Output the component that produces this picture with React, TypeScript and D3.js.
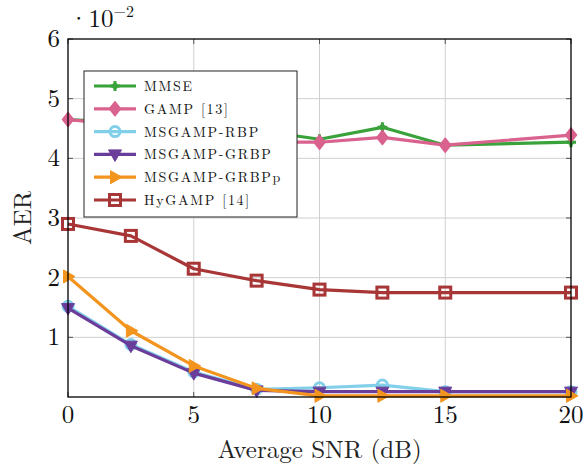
import React from "react";
import * as d3 from "d3";

const snr = [0, 2.5, 5, 7.5, 10, 12.5, 15, 20];
const mmse = [4.65, 4.6, 4.55, 4.47, 4.32, 4.52, 4.22, 4.27];
const gamp = [4.65, 4.55, 4.4, 4.27, 4.27, 4.35, 4.22, 4.39];
const rbp = [1.52, 0.88, 0.42, 0.13, 0.155, 0.2, 0.09, 0.09];
const grbp = [1.49, 0.86, 0.4, 0.11, 0.09, 0.09, 0.09, 0.09];
const grbpp = [2.02, 1.11, 0.52, 0.145, 0.02, 0.02, 0.02, 0.02];
const hygamp = [2.9, 2.7, 2.15, 1.95, 1.8, 1.75, 1.75, 1.75];

const seriesNames = ["MMSE", "GAMP [13]", "MSGAMP-RBP", "MSGAMP-GRBP", "MSGAMP-GRBPp", "HyGAMP [14]"];
const seriesValues = [mmse, gamp, rbp, grbp, grbpp, hygamp];
const seriesColors = ["#3aa23a", "#d9628f", "#82cfea", "#6a3d9a", "#f3941f", "#a83636"];
const seriesMarkers = ["plus", "diamond", "circle", "tridown", "triright", "square"];

const xTicks = [0, 5, 10, 15, 20];
const yTicks = [1, 2, 3, 4, 5, 6];

const W = 584, H = 470;
const L = 68, R = 571, T = 39, B = 397;
const FONT = "'Latin Modern Roman', 'Liberation Serif', serif";

function Marker({ type, x, y, color }: { type: string; x: number; y: number; color: string }) {
  const t = `translate(${x},${y})`;
  switch (type) {
    case "plus":
      return (
        <g transform={t}>
          <circle r={3} fill={color} />
          <path d="M-5,0H5M0,-5V5" stroke={color} strokeWidth={3} />
        </g>
      );
    case "diamond":
      return (
        <g transform={t}>
          <path d="M0,-7L5.5,0L0,7L-5.5,0Z" fill={color} stroke={color} strokeWidth={1.5} strokeLinejoin="round" />
        </g>
      );
    case "circle":
      return <circle transform={t} r={5} fill="none" stroke={color} strokeWidth={3} />;
    case "tridown":
      return <path transform={t} d="M-6.5,-4.5L6.5,-4.5L0,7Z" fill={color} stroke={color} strokeWidth={1} />;
    case "triright":
      return <path transform={t} d="M-4.5,-6.5L7,0L-4.5,6.5Z" fill={color} stroke={color} strokeWidth={1} />;
    case "square":
      return <rect transform={t} x={-5.5} y={-5.5} width={11} height={11} fill="none" stroke={color} strokeWidth={3} />;
  }
  return null;
}

export default function App() {
  const x = d3.scaleLinear().domain([0, 20]).range([L, R]);
  const y = d3.scaleLinear().domain([0, 6]).range([B, T]);
  const line = d3
    .line<[number, number]>()
    .x((d) => x(d[0]))
    .y((d) => y(d[1]));

  const legX = 84, legY = 71, legW = 213, legH = 146;
  const rowH = 22.8;
  const tf = { fontFamily: FONT };

  return (
    <svg width={W} height={H} style={{ position: "fixed", left: 0, top: 0, background: "#fff", fontFamily: FONT }}>
      <rect x={0} y={0} width={W} height={H} fill="#fff" />
      {xTicks.filter((v) => v > 0 && v < 20).map((v) => (
        <line key={"gx" + v} x1={x(v)} x2={x(v)} y1={T} y2={B} stroke="#cfcfcf" strokeWidth={1} />
      ))}
      {yTicks.filter((v) => v < 6).map((v) => (
        <line key={"gy" + v} x1={L} x2={R} y1={y(v)} y2={y(v)} stroke="#cfcfcf" strokeWidth={1} />
      ))}
      {xTicks.map((v) => (
        <g key={"tx" + v}>
          <line x1={x(v)} x2={x(v)} y1={B} y2={B - 5} stroke="#555" />
          <line x1={x(v)} x2={x(v)} y1={T} y2={T + 5} stroke="#555" />
        </g>
      ))}
      {yTicks.map((v) => (
        <g key={"ty" + v}>
          <line x1={L} x2={L + 5} y1={y(v)} y2={y(v)} stroke="#555" />
          <line x1={R} x2={R - 5} y1={y(v)} y2={y(v)} stroke="#555" />
        </g>
      ))}
      {seriesValues.map((vals, i) => {
        const pts = snr.map((s, j) => [s, vals[j]] as [number, number]);
        return (
          <g key={"s" + i}>
            <path d={line(pts) || ""} fill="none" stroke={seriesColors[i]} strokeWidth={3.2} strokeLinejoin="round" />
            {pts.map((p, j) => (
              <Marker key={j} type={seriesMarkers[i]} x={x(p[0])} y={y(p[1])} color={seriesColors[i]} />
            ))}
          </g>
        );
      })}
      <rect x={L} y={T} width={R - L} height={B - T} fill="none" stroke="#000" strokeWidth={1.3} />
      {xTicks.map((v) => (
        <text key={"lx" + v} x={x(v)} y={423} textAnchor="middle" fontSize={25} fill="#111" style={tf}>
          {v}
        </text>
      ))}
      {yTicks.map((v) => (
        <text key={"ly" + v} x={60} y={y(v) + 8} textAnchor="end" fontSize={25} fill="#111" style={tf}>
          {v}
        </text>
      ))}
      <text x={69} y={27} fontSize={25} fill="#111" style={tf}>
        ·10
        <tspan dy={-10} fontSize={16}>−2</tspan>
      </text>
      <text x={x(10)} y={458} textAnchor="middle" fontSize={25} fill="#222" style={tf}>
        Average SNR (dB)
      </text>
      <text transform={`translate(31,${(T + B) / 2}) rotate(-90)`} textAnchor="middle" fontSize={25} fill="#222" style={tf}>
        AER
      </text>
      <rect x={legX} y={legY} width={legW} height={legH} fill="#fff" stroke="#222" strokeWidth={1} />
      {seriesNames.map((n, i) => {
        const cy = legY + 15 + i * rowH;
        return (
          <g key={"lg" + i}>
            <line x1={94} x2={136} y1={cy} y2={cy} stroke={seriesColors[i]} strokeWidth={3.2} />
            <Marker type={seriesMarkers[i]} x={115} y={cy} color={seriesColors[i]} />
            <text x={144} y={cy + 5} fontSize={14} fill="#111" letterSpacing={1.7} style={tf}>
              {n}
            </text>
          </g>
        );
      })}
    </svg>
  );
}
